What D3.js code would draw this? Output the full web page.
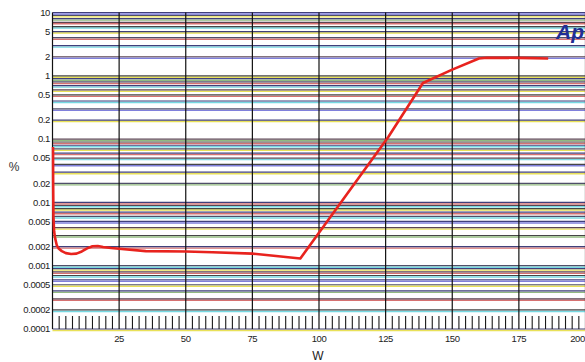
<!DOCTYPE html>
<html><head><meta charset="utf-8">
<script src="https://cdn.jsdelivr.net/npm/d3@7"></script>
<style>html,body{margin:0;padding:0;background:#fff;overflow:hidden}</style>
</head><body>
<svg id="c" width="585" height="362"></svg>
<script>
const xTicks = [25,50,75,100,125,150,175,200];
const yTicks = [10,5,2,1,0.5,0.2,0.1,0.05,0.02,0.01,0.005,0.002,0.001,0.0005,0.0002,0.0001];
const yLabels = ["10","5","2","1","0.5","0.2","0.1","0.05","0.02","0.01","0.005","0.002","0.001","0.0005","0.0002","0.0001"];
const wValues   = [0.2, 0.25, 0.35, 0.6, 1.0, 1.6, 2.4, 3.5, 5, 7, 9, 11, 13, 15, 17, 19, 22, 25, 35, 50, 60, 75, 93, 126, 139, 150, 160, 163, 175, 186];
const pctValues = [0.075, 0.02, 0.006, 0.0035, 0.0027, 0.0021, 0.00185, 0.0017, 0.00158, 0.00153, 0.00155, 0.00168, 0.00188, 0.00203, 0.00205, 0.00198, 0.0019, 0.00185, 0.0017, 0.00168, 0.00163, 0.00155, 0.0013, 0.108, 0.77, 1.25, 1.88, 1.93, 1.92, 1.88];

const svg = d3.select("#c");
const x = d3.scaleLinear().domain([0,200]).range([52.5,585.5]);
const y = d3.scaleLog().domain([0.0001,10]).range([329,12.5]);

// horizontal grid (log minor + major)
const gridVals = y.ticks();
const accent = ["#e6dc3c","#5fd3de","#d05a5a","#7fae6a","#e6dc3c","#6a6ad6","#5fd3de","#d05a5a"];
const dark = ["#2c2c6e","#333","#4a3040","#2c2c6e","#3c3c58"];
const g = svg.append("g");
gridVals.forEach((v,i)=>{
  const yy = y(v);
  g.append("line").attr("x1",x(0)).attr("x2",x(200)).attr("y1",yy+1.5).attr("y2",yy+1.5)
    .attr("stroke",accent[i%accent.length]).attr("stroke-width",1.4).attr("opacity",0.85);
  g.append("line").attr("x1",x(0)).attr("x2",x(200)).attr("y1",yy).attr("y2",yy)
    .attr("stroke",dark[i%dark.length]).attr("stroke-width",1.2).attr("opacity",0.9);
});

// vertical grid
[0].concat(xTicks).forEach(v=>{
  g.append("line").attr("x1",x(v)).attr("x2",x(v)).attr("y1",y(10)).attr("y2",y(0.0001))
    .attr("stroke","#111").attr("stroke-width",1.2);
});

// bottom ruler ticks
const ruler = d3.range(2.5,200,2.5).filter(v=>v%25!==0);
g.selectAll(".rt").data(ruler).enter().append("line")
  .attr("x1",d=>x(d)).attr("x2",d=>x(d)).attr("y1",316).attr("y2",y(0.0001))
  .attr("stroke","#1a1a1a").attr("stroke-width",1.1);

// y labels
svg.append("g").selectAll("text").data(yTicks).enter().append("text")
  .attr("x",50).attr("y",d=>y(d)).attr("dy","0.35em").attr("text-anchor","end")
  .attr("font-family","Liberation Sans, Arial, sans-serif").attr("font-size",9.5)
  .attr("letter-spacing",-0.4).attr("fill","#222")
  .text((d,i)=>yLabels[i]);

// x labels
svg.append("g").selectAll("text").data(xTicks).enter().append("text")
  .attr("x",d=>d===200?x(d)-8:x(d)).attr("y",342).attr("text-anchor","middle")
  .attr("font-family","Liberation Sans, Arial, sans-serif").attr("font-size",9.5)
  .attr("letter-spacing",-0.4).attr("fill","#222")
  .text(d=>d);

// axis titles
svg.append("text").attr("x",318).attr("y",360).attr("text-anchor","middle")
  .attr("font-family","Liberation Sans, Arial, sans-serif").attr("font-size",12).attr("fill","#222").text("W");
svg.append("text").attr("x",14).attr("y",171).attr("text-anchor","middle")
  .attr("font-family","Liberation Sans, Arial, sans-serif").attr("font-size",12).attr("fill","#333").text("%");

// data line
const pts = wValues.map((w,i)=>[w,pctValues[i]]);
const line = d3.line().x(d=>x(d[0])).y(d=>y(d[1])).curve(d3.curveLinear);
svg.append("path").attr("d",line(pts)).attr("fill","none")
  .attr("stroke","#e8231e").attr("stroke-width",2.6).attr("stroke-linejoin","round");

// brand text
svg.append("text").attr("x",556).attr("y",39)
  .attr("font-family","Liberation Sans, Arial, sans-serif").attr("font-size",21)
  .attr("font-weight","bold").attr("font-style","italic").attr("fill","#1f2f95").text("Ap");
</script>
</body></html>
